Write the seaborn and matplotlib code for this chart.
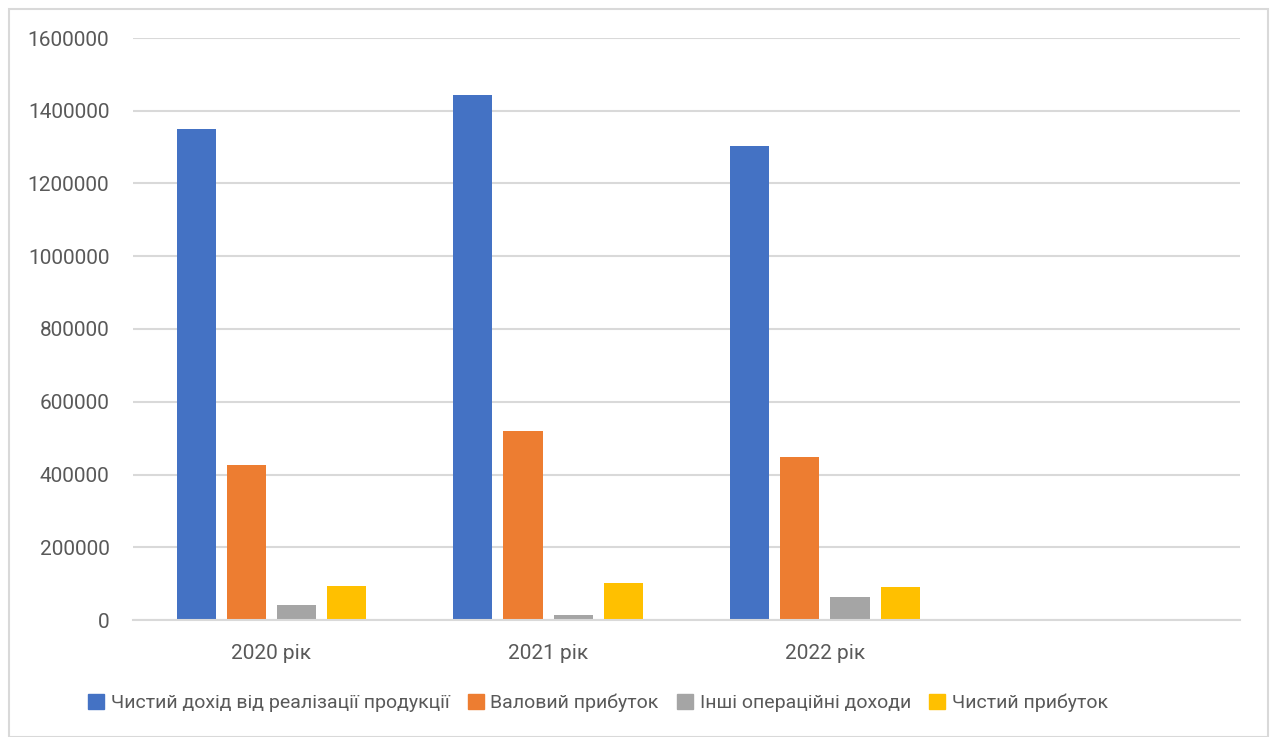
import pandas as pd
import seaborn as sns
import matplotlib.pyplot as plt
from matplotlib.patches import Rectangle

sns.set_style('white')
plt.rcParams['font.family'] = ['Roboto', 'DejaVu Sans']

years = ['2020 рік', '2021 рік', '2022 рік']
series = ['Чистий дохід від реалізації продукції', 'Валовий прибуток',
          'Інші операційні доходи', 'Чистий прибуток']
net_revenue = [1350000, 1443000, 1302000]
gross_profit = [426000, 519000, 447000]
other_income = [40000, 13000, 63000]
net_profit = [93000, 101000, 90000]
colors = ['#4472C4', '#ED7D31', '#A5A5A5', '#FFC000']

rows = []
for name, vals in zip(series, [net_revenue, gross_profit, other_income, net_profit]):
    for y, v in zip(years, vals):
        rows.append({'year': y, 'series': name, 'value': v})
df = pd.DataFrame(rows)

fig = plt.figure(figsize=(12.73, 7.37), dpi=100)
ax = fig.add_axes([133 / 1273, 1 - 620 / 737, (1240 - 133) / 1273, (620 - 38) / 737])

sns.barplot(data=df, x='year', y='value', hue='series', hue_order=series,
            palette=colors, width=0.725, gap=0.22, ax=ax, legend=False,
            saturation=1, linewidth=0)

ax.set_xlim(-0.5, 3.5)
ax.set_ylim(0, 1600000)
ax.set_yticks(range(0, 1600001, 200000))
ax.set_yticklabels([str(t) for t in range(0, 1600001, 200000)])
ax.set_xlabel('')
ax.set_ylabel('')
ax.yaxis.grid(True, color='#d9d9d9', linewidth=1.5)
ax.set_axisbelow(True)
for s in ['top', 'right', 'left']:
    ax.spines[s].set_visible(False)
ax.spines['bottom'].set_color('#d9d9d9')
ax.spines['bottom'].set_linewidth(1.5)
ax.tick_params(axis='both', length=0, labelsize=15, labelcolor='#595959')
ax.tick_params(axis='y', pad=17)
ax.tick_params(axis='x', pad=17)

handles = [Rectangle((0, 0), 1, 1, color=c) for c in colors]
fig.legend(handles, series, loc='center', bbox_to_anchor=(598 / 1273, 1 - 703 / 737),
           ncol=4, frameon=False, fontsize=14, labelcolor='#595959',
           handlelength=0.8, handleheight=0.8, handletextpad=0.35, columnspacing=0.95)

fig.patches.append(Rectangle((9 / 1273, 0), 1259 / 1273, 1 - 9 / 737,
                             transform=fig.transFigure, fill=False,
                             edgecolor='#d9d9d9', linewidth=1.5))

fig.savefig('out.png', dpi=100)
